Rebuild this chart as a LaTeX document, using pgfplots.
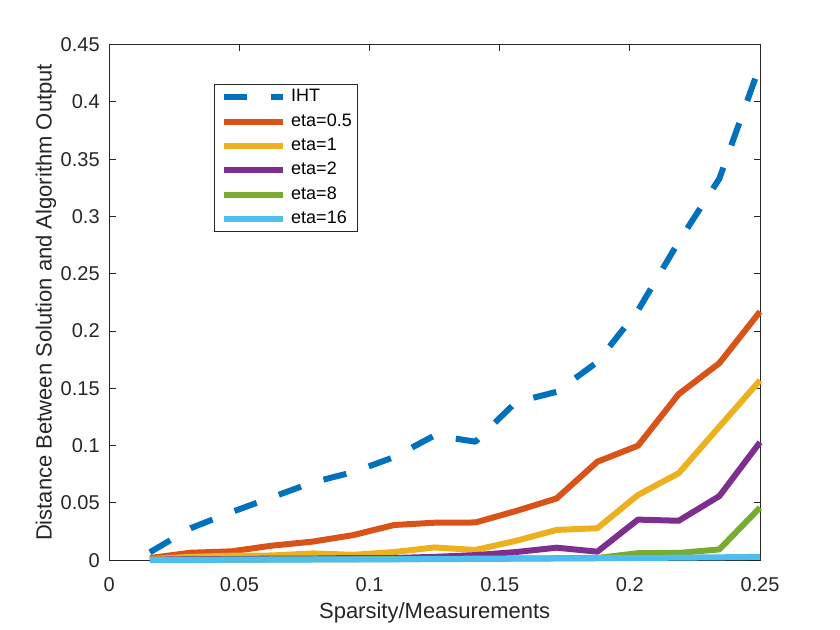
\documentclass[border=0pt]{standalone}
\usepackage{pgfplots}
\pgfplotsset{compat=1.18}
\usepackage{fontspec}
\setmainfont{Liberation Sans}
\definecolor{c1}{rgb}{0,0.4470,0.7410}
\definecolor{c2}{rgb}{0.8500,0.3250,0.0980}
\definecolor{c3}{rgb}{0.9290,0.6940,0.1250}
\definecolor{c4}{rgb}{0.4940,0.1840,0.5560}
\definecolor{c5}{rgb}{0.4660,0.6740,0.1880}
\definecolor{c6}{rgb}{0.3010,0.7450,0.9330}
\definecolor{axgray}{rgb}{0.15,0.15,0.15}
\begin{document}
\begin{tikzpicture}
\useasboundingbox (-54.65pt,-34.85pt) rectangle (365.35pt,280.15pt);
\begin{axis}[
  at={(0,0)}, anchor=south west,
  scale only axis,
  width=325.35pt, height=257.85pt,
  xmin=0, xmax=0.25, ymin=0, ymax=0.45,
  xtick={0,0.05,0.1,0.15,0.2,0.25},
  ytick={0,0.05,0.1,0.15,0.2,0.25,0.3,0.35,0.4,0.45},
  scaled ticks=false,
  tick pos=both, tick align=inside,
  major tick length=3.2pt,
  axis line style={axgray, line width=0.5pt},
  every tick/.style={axgray, line width=0.5pt},
  /pgf/number format/assume math mode=true,
  /pgf/number format/fixed,
  /pgf/number format/precision=2,
  tick label style={font=\fontsize{10}{12}\selectfont, text=axgray},
  xticklabel style={yshift=-5.2pt},
  yticklabel style={xshift=-1.3pt},
  xlabel={Sparsity/Measurements},
  ylabel={Distance Between Solution and Algorithm Output},
  label style={font=\fontsize{11}{13}\selectfont, text=axgray},
  xlabel style={at={(axis description cs:0.5,-0.1121)}, anchor=base},
  ylabel style={at={(axis description cs:-0.0885,0.5)}, anchor=base},
  clip=false,
  legend cell align=left,
  legend style={at={(0.1614,0.923)}, anchor=north west, draw=axgray, line width=0.5pt, fill=white,
    font=\fontsize{9}{10}\selectfont, inner xsep=3pt, inner ysep=2pt, row sep=3.9pt, column sep=2.5pt,
    nodes={inner sep=0pt, text height=6.5pt, text depth=1.8pt}},
  legend image code/.code={\draw[#1] (0pt,0pt) -- (29.7pt,0pt);},
  every axis plot/.append style={line width=3pt, line join=round},
]
\addplot[c1, dash pattern=on 11.8pt off 11.8pt] coordinates {
(0.015625,0.007) (0.03125,0.028) (0.046875,0.042) (0.0625,0.055) (0.078125,0.068) (0.09375,0.077)
(0.109375,0.090) (0.125,0.109) (0.140625,0.1035) (0.15625,0.138) (0.171875,0.147) (0.1875,0.173)
(0.203125,0.218) (0.21875,0.278) (0.234375,0.333) (0.25,0.432)};
\addlegendentry{IHT}
\addplot[c2] coordinates {
(0.015625,0.002) (0.03125,0.0066) (0.046875,0.0078) (0.0625,0.0128) (0.078125,0.0163) (0.09375,0.022)
(0.109375,0.0308) (0.125,0.0328) (0.140625,0.033) (0.15625,0.043) (0.171875,0.054) (0.1875,0.086)
(0.203125,0.100) (0.21875,0.145) (0.234375,0.172) (0.25,0.217)};
\addlegendentry{eta=0.5}
\addplot[c3] coordinates {
(0.015625,0.001) (0.03125,0.003) (0.046875,0.004) (0.0625,0.0042) (0.078125,0.006) (0.09375,0.0048)
(0.109375,0.0072) (0.125,0.0112) (0.140625,0.009) (0.15625,0.017) (0.171875,0.0265) (0.1875,0.028)
(0.203125,0.057) (0.21875,0.076) (0.234375,0.1166) (0.25,0.157)};
\addlegendentry{eta=1}
\addplot[c4] coordinates {
(0.015625,0.0005) (0.03125,0.001) (0.046875,0.001) (0.0625,0.0015) (0.078125,0.0015) (0.09375,0.002)
(0.109375,0.002) (0.125,0.003) (0.140625,0.0045) (0.15625,0.0072) (0.171875,0.011) (0.1875,0.0075)
(0.203125,0.0355) (0.21875,0.0345) (0.234375,0.056) (0.25,0.103)};
\addlegendentry{eta=2}
\addplot[c5] coordinates {
(0.015625,0.0003) (0.03125,0.0005) (0.046875,0.0006) (0.0625,0.0007) (0.078125,0.0008) (0.09375,0.0009)
(0.109375,0.001) (0.125,0.0012) (0.140625,0.0014) (0.15625,0.0016) (0.171875,0.0018) (0.1875,0.002)
(0.203125,0.0062) (0.21875,0.0064) (0.234375,0.0095) (0.25,0.046)};
\addlegendentry{eta=8}
\addplot[c6] coordinates {
(0.015625,0.0003) (0.03125,0.0004) (0.046875,0.0005) (0.0625,0.0006) (0.078125,0.0007) (0.09375,0.0008)
(0.109375,0.0009) (0.125,0.001) (0.140625,0.0012) (0.15625,0.0014) (0.171875,0.0016) (0.1875,0.0018)
(0.203125,0.002) (0.21875,0.0023) (0.234375,0.0026) (0.25,0.003)};
\addlegendentry{eta=16}
\end{axis}
\end{tikzpicture}
\end{document}
